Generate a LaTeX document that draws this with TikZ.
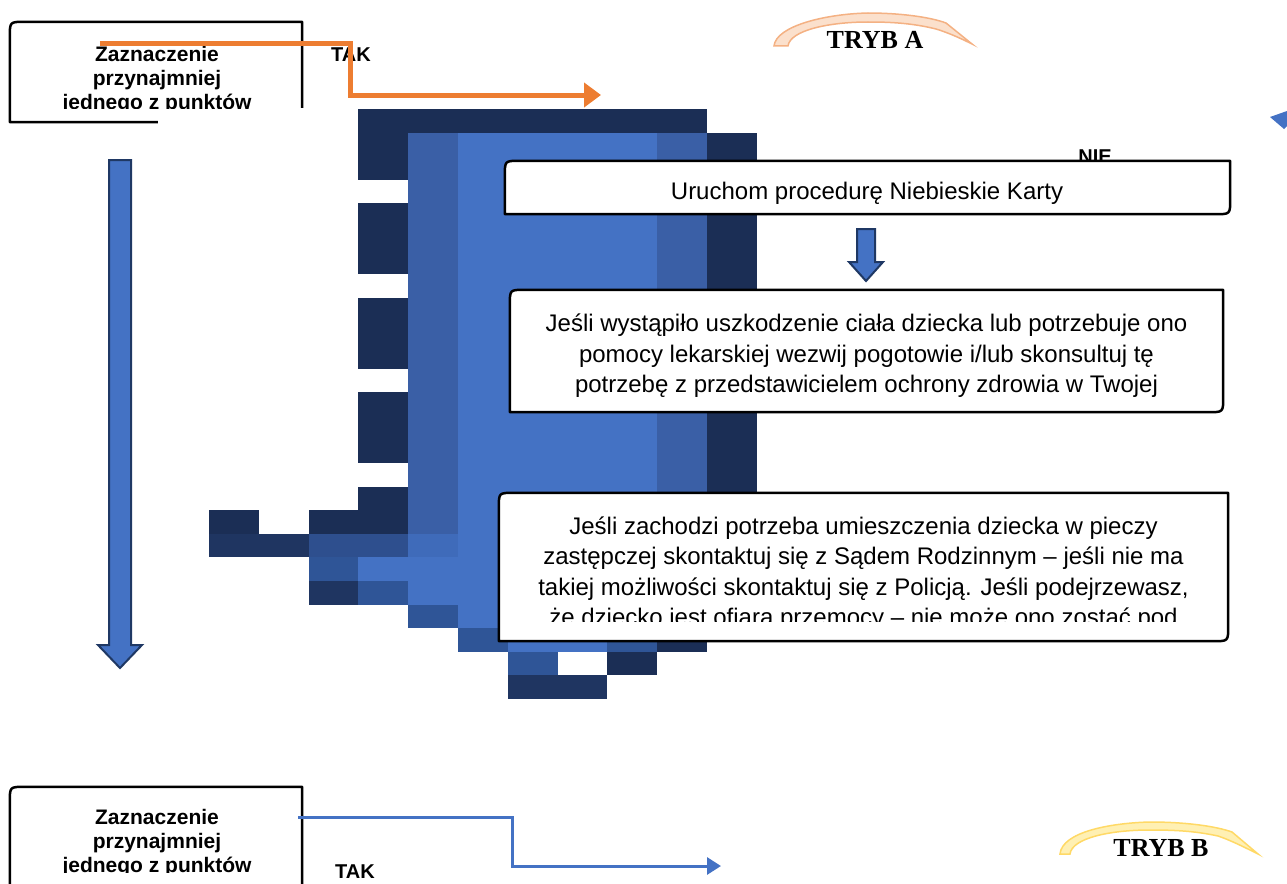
\documentclass[tikz,border=0pt]{standalone}
\usepackage{fontspec}
\setmainfont{Liberation Sans}
\newfontfamily\trybfont{Liberation Serif}
\usetikzlibrary{arrows.meta,calc}
\definecolor{navy}{HTML}{1B2E55}
\definecolor{navyb}{HTML}{1F3561}
\definecolor{midb}{HTML}{3A5FA6}
\definecolor{midc}{HTML}{2F5597}
\definecolor{midd}{HTML}{2E4F8E}
\definecolor{lightb}{HTML}{4472C4}
\definecolor{lighte}{HTML}{3F6BBA}
\definecolor{arrowedge}{HTML}{1F3864}
\definecolor{orangeA}{HTML}{ED7D31}
\definecolor{ribA}{HTML}{F4B183}
\definecolor{ribAfill}{HTML}{FBE0CC}
\definecolor{ribB}{HTML}{FFD966}
\definecolor{ribBfill}{HTML}{FFF0B3}
\newcommand\mblock[5]{\fill[#5] ({209+49.8*#1},{109+23.6*#2}) rectangle ({209+49.8*(#3+1)},{109+23.6*(#4+1)});}
\newcommand\diagframe[1]{\draw[boxline] (#1.south west) -- ($(#1.north west)+(0,15)$) .. controls (#1.north west) .. ($(#1.north west)+(15,0)$) -- (#1.north east) -- ($(#1.south east)+(0,-15)$) .. controls (#1.south east) .. ($(#1.south east)+(-15,0)$) -- cycle;}
\tikzset{
 boxline/.style={draw=black, line width=2.5pt, fill=white, line join=round},
 frame/.style={inner sep=0pt, draw=none},
 body/.style={font=\fontsize{24}{30.5}\selectfont, align=center, inner sep=0pt},
 boldtxt/.style={font=\bfseries\fontsize{21}{24}\selectfont, align=center, inner sep=0pt},
 lab/.style={font=\bfseries\fontsize{20}{24}\selectfont, inner sep=0pt},
 tryb/.style={font=\trybfont\bfseries\fontsize{26}{30}\selectfont, inner sep=0pt},
 blockarrow/.style={fill=lightb, draw=arrowedge, line width=2pt, line join=miter},
 orangeline/.style={draw=orangeA, line width=5pt, line join=miter, -{Triangle[length=17pt,width=24pt]}},
 blueline/.style={draw=lightb, line width=3pt, line join=miter, -{Triangle[length=14pt,width=17pt]}},
}
\begin{document}
\begin{tikzpicture}[x=1pt,y=-1pt]
\useasboundingbox (0,0) rectangle (1287,883);
% pixel mosaic
\mblock{3}{0}{9}{0}{navy}
\mblock{3}{1}{3}{2}{navy}
\mblock{3}{4}{3}{6}{navy}
\mblock{3}{8}{3}{10}{navy}
\mblock{3}{12}{3}{14}{navy}
\mblock{3}{16}{3}{17}{navy}
\mblock{4}{1}{4}{17}{midb}
\mblock{4}{18}{4}{18}{lighte}
\mblock{4}{19}{4}{20}{lightb}
\mblock{4}{21}{4}{21}{midc}
\mblock{5}{1}{8}{21}{lightb}
\mblock{9}{1}{9}{21}{midb}
\mblock{10}{1}{10}{21}{navy}
\mblock{5}{22}{5}{22}{midc}
\mblock{6}{22}{7}{22}{lightb}
\mblock{8}{22}{8}{22}{midc}
\mblock{9}{22}{9}{22}{navy}
\mblock{6}{23}{6}{23}{midc}
\mblock{8}{23}{8}{23}{navy}
\mblock{6}{24}{7}{24}{navyb}
\mblock{0}{17}{0}{17}{navy}
\mblock{2}{17}{2}{17}{navy}
\mblock{0}{18}{1}{18}{navyb}
\mblock{2}{18}{3}{18}{midd}
\mblock{2}{19}{2}{19}{midc}
\mblock{3}{19}{3}{19}{lightb}
\mblock{2}{20}{2}{20}{navyb}
\mblock{3}{20}{3}{20}{midc}
% labels under boxes
\node[lab] (nie) at (1095,157) {NIE};
% box 1
\node[frame, minimum width=292pt, minimum height=100pt] (b1) at (156,72) {};
\diagframe{b1}
\fill[white] (158,108) rectangle (312,128);
\begin{scope}
\clip (0,0) rectangle (320,108);
\node[boldtxt] (b1t) at (157,80) {Zaznaczenie\\przynajmniej\\jednego z punktów};
\end{scope}
% box 2
\node[frame, minimum width=725pt, minimum height=53pt] (b2) at (867.5,187.5) {};
\diagframe{b2}
\node[body] (b2t) at (867,193) {Uruchom procedurę Niebieskie Karty};
% box 3
\node[frame, minimum width=713pt, minimum height=122pt] (b3) at (866.5,351) {};
\diagframe{b3}
\node[body] (b3t) at (866.5,356) {Jeśli wystąpiło uszkodzenie ciała dziecka lub potrzebuje ono\\pomocy lekarskiej wezwij pogotowie i/lub skonsultuj tę\\potrzebę z przedstawicielem ochrony zdrowia w Twojej};
% box 4
\node[frame, minimum width=729pt, minimum height=148pt] (b4) at (863.5,567) {};
\diagframe{b4}
\begin{scope}
\clip (499,493) rectangle (1228,621);
\node[body] (b4t) at (863.5,573.5) {Jeśli zachodzi potrzeba umieszczenia dziecka w pieczy\\zastępczej skontaktuj się z Sądem Rodzinnym – jeśli nie ma\\takiej możliwości skontaktuj się z Policją. Jeśli podejrzewasz,\\że dziecko jest ofiarą przemocy – nie może ono zostać pod};
\end{scope}
% box 5
\node[frame, minimum width=292pt, minimum height=108pt] (b5) at (156,841) {};
\diagframe{b5}
\begin{scope}
\clip (0,780) rectangle (320,872);
\node[boldtxt] (b5t) at (157,843.5) {Zaznaczenie\\przynajmniej\\jednego z punktów};
\end{scope}
% labels
\node[lab] (tak1) at (351,55) {TAK};
\node[lab] (tak2) at (355,872) {TAK};
% orange connector
\coordinate (oStart) at ($(b1.north west)+(90,22)$);
\coordinate (oBend) at (350,95);
\coordinate (oEnd) at (601,95);
\draw[orangeline] (oStart) -| (oBend) -- (oEnd);
% blue connector
\coordinate (bStart) at ($(b5.north east)+(-4,31)$);
\coordinate (bBend) at (512,866);
\coordinate (bEnd) at (721,866);
\draw[blueline] (bStart) -| (bBend) -- (bEnd);
% block arrows
\filldraw[blockarrow] (109,160) -- (131,160) -- (131,645) -- (142,645) -- (120,668) -- (98,645) -- (109,645) -- cycle;
\filldraw[blockarrow] (857,229) -- (875,229) -- (875,262) -- (883,262) -- (866,281) -- (849,262) -- (857,262) -- cycle;
% edge triangle
\fill[lightb] (1270,117) -- (1287,111) -- (1287,126) -- (1284,129) -- cycle;
% ribbons
\filldraw[draw=ribA, fill=ribAfill, line width=1.5pt] (774,46) .. controls (776,26) and (825,14) .. (868,13) .. controls (900,13) and (930,17) .. (946,23) -- (972,44) .. controls (958,37) and (946,32) .. (936,29) .. controls (912,23) and (890,22) .. (868,22) .. controls (830,22) and (790,30) .. (788,46) -- cycle;
\filldraw[draw=ribB, fill=ribBfill, line width=1.5pt] (1060,854) .. controls (1062,832) and (1110,823) .. (1150,822) .. controls (1185,822) and (1215,826) .. (1232,832) -- (1258,854) .. controls (1244,847) and (1230,840) .. (1218,836) .. controls (1195,831) and (1175,830) .. (1150,830) .. controls (1110,830) and (1072,838) .. (1070,854) -- cycle;
\node[tryb] (trybA) at (875,40) {TRYB A};
\node[tryb] (trybB) at (1161,848) {TRYB B};
\end{tikzpicture}
\end{document}
